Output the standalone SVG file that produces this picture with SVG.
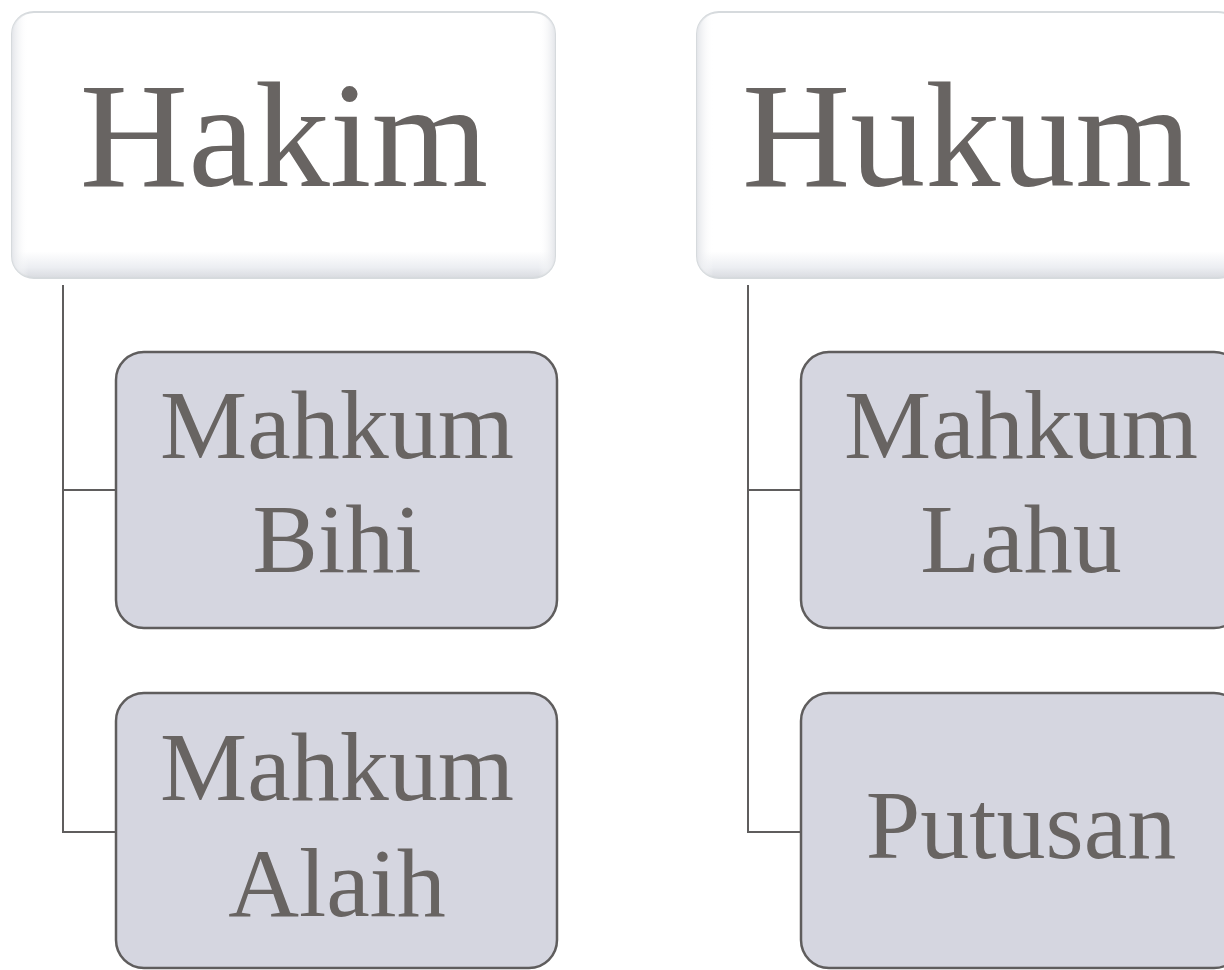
<svg xmlns="http://www.w3.org/2000/svg" width="1224" height="970" viewBox="0 0 1224 970">
<defs>
<linearGradient id="topg" x1="0" y1="0" x2="0" y2="1">
<stop offset="0" stop-color="#ffffff"/>
<stop offset="0.9" stop-color="#ffffff"/>
<stop offset="0.96" stop-color="#eceef2"/>
<stop offset="1" stop-color="#d9dbe0"/>
</linearGradient>
<linearGradient id="topl" x1="0" y1="0" x2="1" y2="0">
<stop offset="0" stop-color="#e4e6ea"/>
<stop offset="0.03" stop-color="#ffffff" stop-opacity="0"/>
<stop offset="0.97" stop-color="#ffffff" stop-opacity="0"/>
<stop offset="1" stop-color="#e4e6ea"/>
</linearGradient>
</defs>
<style>
.top{fill:url(#topg);stroke:#d6dadd;stroke-width:2}
.topl{fill:url(#topl);stroke:none}
.child{fill:#d5d6e0;stroke:#5f5d5d;stroke-width:2.5}
.t{font-family:"Liberation Serif","DejaVu Serif",serif;fill:#686462;text-anchor:middle}
.big{font-size:150px}
.mid{font-size:98px}
.conn{fill:none;stroke:#5f5d5d;stroke-width:2}
</style>
<g id="connectors">
<path class="conn" d="M63,285 V832 H116 M63,490 H116"/>
<path class="conn" d="M748,285 V832 H801 M748,490 H801"/>
</g>
<g id="hakim">
<rect class="top" x="12" y="12" width="543" height="266" rx="22"/>
<rect class="topl" x="12" y="12" width="543" height="266" rx="22"/>
<text class="t big" x="284" y="186">Hakim</text>
</g>
<g id="hukum">
<rect class="top" x="697" y="12" width="543" height="266" rx="22"/>
<rect class="topl" x="697" y="12" width="543" height="266" rx="22"/>
<text class="t big" x="967" y="186">Hukum</text>
</g>
<g id="mahkum-bihi">
<rect class="child" x="116" y="352" width="441" height="276" rx="28"/>
<text class="t mid" x="337" y="458">Mahkum</text>
<text class="t mid" x="337" y="572">Bihi</text>
</g>
<g id="mahkum-alaih">
<rect class="child" x="116" y="693" width="441" height="275" rx="28"/>
<text class="t mid" x="337" y="800">Mahkum</text>
<text class="t mid" x="337" y="916">Alaih</text>
</g>
<g id="mahkum-lahu">
<rect class="child" x="801" y="352" width="441" height="276" rx="28"/>
<text class="t mid" x="1021" y="458">Mahkum</text>
<text class="t mid" x="1021" y="572">Lahu</text>
</g>
<g id="putusan">
<rect class="child" x="801" y="693" width="441" height="275" rx="28"/>
<text class="t mid" x="1021" y="858">Putusan</text>
</g>
</svg>
